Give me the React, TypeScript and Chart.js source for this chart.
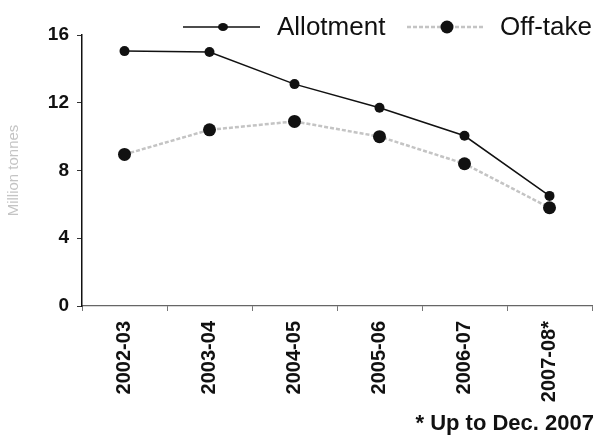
import React, { useEffect, useRef } from "react";
import { Chart, registerables } from "chart.js";

Chart.register(...registerables);

const categories = ["2002-03", "2003-04", "2004-05", "2005-06", "2006-07", "2007-08*"];
const allotment = [15.05, 15.0, 13.1, 11.7, 10.05, 6.5];
const offtake = [8.95, 10.4, 10.9, 10.0, 8.4, 5.8];
const seriesNames = ["Allotment", "Off-take"];
const yTitle = "Million tonnes";
const footnote = "* Up to Dec. 2007";

const FONT = "'Liberation Sans', Arial, sans-serif";

const overlay = {
  id: "overlay",
  afterDraw(chart: any) {
    const ctx = chart.ctx;
    ctx.save();
    const ly = 27;
    // legend: Allotment
    ctx.strokeStyle = "#111";
    ctx.lineWidth = 1.5;
    ctx.setLineDash([]);
    ctx.beginPath();
    ctx.moveTo(183, ly);
    ctx.lineTo(260, ly);
    ctx.stroke();
    ctx.fillStyle = "#111";
    ctx.beginPath();
    ctx.ellipse(223, ly, 5, 4, 0, 0, Math.PI * 2);
    ctx.fill();
    ctx.font = `26px ${FONT}`;
    ctx.textBaseline = "middle";
    ctx.textAlign = "left";
    ctx.fillText(seriesNames[0], 277, ly + 1);
    // legend: Off-take
    ctx.strokeStyle = "#c4c4c4";
    ctx.lineWidth = 2.5;
    ctx.setLineDash([4, 2]);
    ctx.beginPath();
    ctx.moveTo(407, ly);
    ctx.lineTo(485, ly);
    ctx.stroke();
    ctx.setLineDash([]);
    ctx.fillStyle = "#111";
    ctx.beginPath();
    ctx.arc(447, ly, 6.5, 0, Math.PI * 2);
    ctx.fill();
    ctx.fillText(seriesNames[1], 500, ly + 1);
    // footnote
    ctx.font = `bold 22px ${FONT}`;
    ctx.textAlign = "right";
    ctx.fillText(footnote, 594, 424);
    ctx.restore();
  },
};

export default function App() {
  const ref = useRef<HTMLCanvasElement>(null);
  useEffect(() => {
    if (!ref.current) return;
    const chart = new Chart(ref.current, {
      type: "line",
      data: {
        labels: categories,
        datasets: [
          {
            label: seriesNames[1],
            data: offtake,
            borderColor: "#c4c4c4",
            borderWidth: 2.5,
            borderDash: [4, 2],
            pointRadius: 6.5,
            pointBackgroundColor: "#111",
            pointBorderColor: "#111",
            pointBorderWidth: 0,
            tension: 0,
          },
          {
            label: seriesNames[0],
            data: allotment,
            borderColor: "#111",
            borderWidth: 1.5,
            pointRadius: 5,
            pointBackgroundColor: "#111",
            pointBorderColor: "#111",
            pointBorderWidth: 0,
            tension: 0,
          },
        ],
      },
      options: {
        animation: false,
        responsive: false,
        layout: { padding: { top: 35, right: 8, left: 0, bottom: 0 } },
        plugins: { legend: { display: false }, tooltip: { enabled: false } },
        scales: {
          x: {
            offset: true,
            grid: { display: true, drawOnChartArea: false, offset: true, tickLength: 5, color: "#777" },
            border: { color: "#666", width: 1.2 },
            ticks: {
              maxRotation: 90,
              minRotation: 90,
              color: "#111",
              font: { family: FONT, size: 20, weight: "bold" },
              padding: 10,
            },
            afterFit: (s: any) => { s.height = 129; },
          },
          y: {
            min: 0,
            max: 16,
            ticks: {
              stepSize: 4,
              color: "#111",
              font: { family: FONT, size: 19, weight: "bold" },
              padding: 8,
            },
            grid: { display: true, drawOnChartArea: false, tickLength: 5, color: "#333" },
            border: { color: "#111", width: 1.5 },
            title: {
              display: true,
              text: yTitle,
              color: "#c4c4c4",
              font: { family: FONT, size: 15 },
              padding: { top: 5, bottom: 0 },
            },
            afterFit: (s: any) => { s.width = 82; },
          },
        },
      },
      plugins: [overlay],
    });
    return () => chart.destroy();
  }, []);
  return (
    <div style={{ position: "absolute", left: 0, top: 0, width: 600, height: 435, background: "#fff" }}>
      <canvas ref={ref} width={600} height={435} />
    </div>
  );
}
